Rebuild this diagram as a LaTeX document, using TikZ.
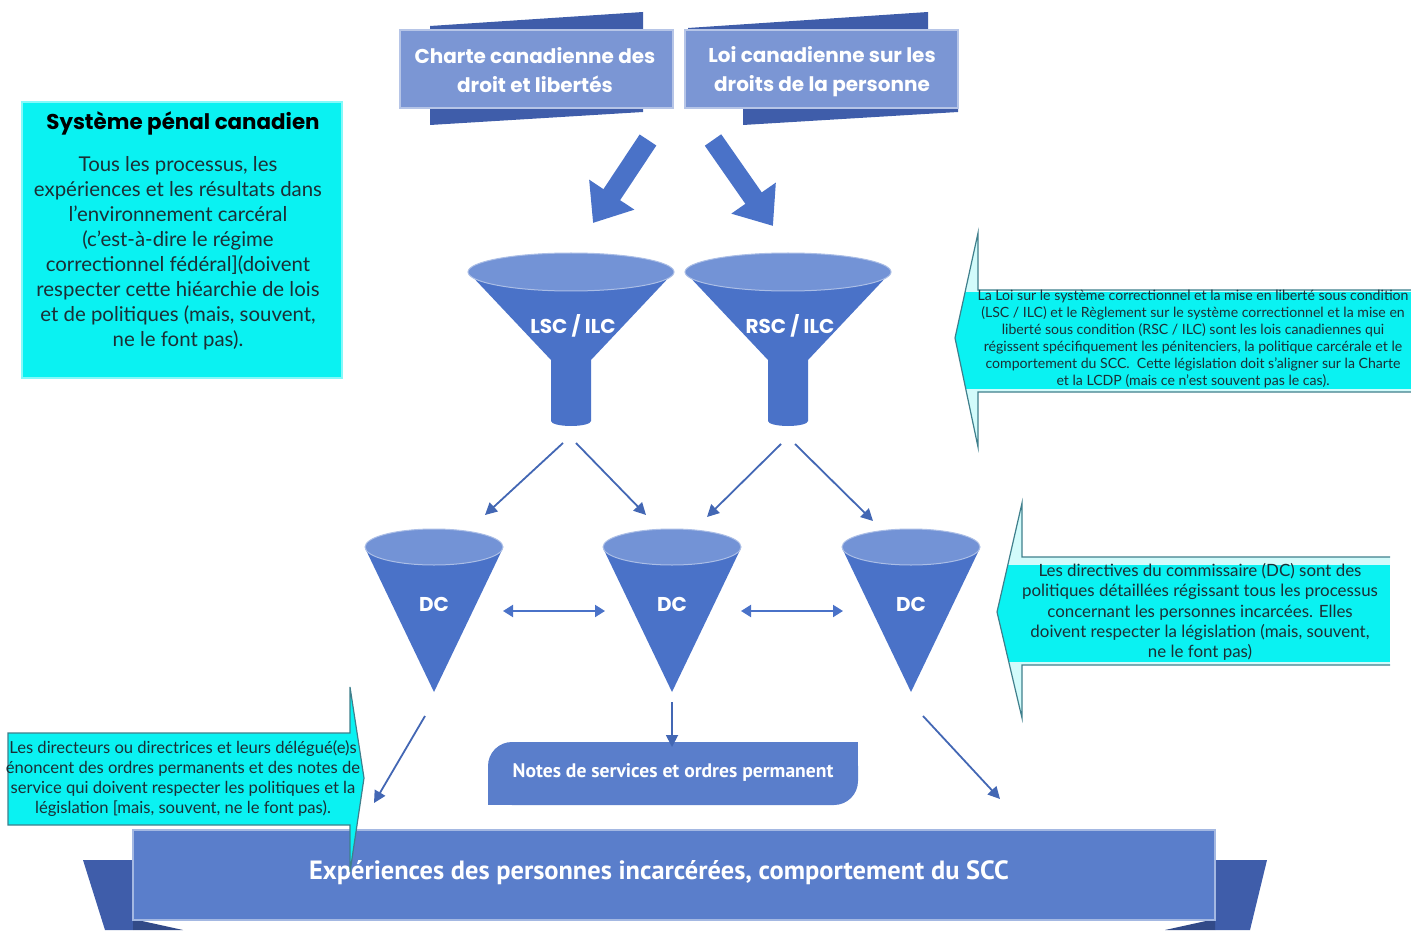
\documentclass[tikz,border=0pt]{standalone}
\usepackage{fontspec}
\setmainfont{Lato}
\newfontfamily\geofont{Poppins}
\newfontfamily\narrowfont{PT Sans}
\usetikzlibrary{arrows.meta,calc}

\definecolor{ribbon}{HTML}{7B96D4}
\definecolor{ribbondark}{HTML}{3F5DAA}
\definecolor{funnel}{HTML}{4A72C8}
\definecolor{funneltop}{HTML}{7393D6}
\definecolor{banner}{HTML}{5A7ECB}
\definecolor{aqua}{HTML}{0AF2F2}
\definecolor{aquapale}{HTML}{D2FBFB}
\definecolor{aquaedge}{HTML}{3F7F8C}
\definecolor{ink}{HTML}{1B2F36}

\tikzset{
  front/.style={fill=ribbon, draw=ribbon!55!white, line width=0.6pt},
  back/.style={fill=ribbondark},
  fatarrow/.style={draw=funnel, line width=10pt, -{Triangle[length=17pt,width=26pt]}},
  thinarrow/.style={draw=funnel!90!black, line width=0.9pt, -{Triangle[length=6pt,width=6pt]}},
  twoway/.style={draw=funnel, line width=1pt, {Triangle[length=5pt,width=6pt]}-{Triangle[length=5pt,width=6pt]}},
  whitelabel/.style={text=white, font=\geofont\bfseries},
  note/.style={text=ink, align=center},
  aquaarrow/.style={draw=aquaedge, line width=0.6pt},
}

\begin{document}
\begin{tikzpicture}[x=0.5pt, y=-0.5pt]
\useasboundingbox (0,0) rectangle (1411,930);

% charte and loi banners
\fill[back] (430,30) -- (430,26) -- (643,12) -- (643,30) -- cycle;
\fill[back] (430,108) -- (430,125) -- (643,112) -- (643,108) -- cycle;
\fill[back] (688,30) -- (688,28) -- (928,12) -- (928,30) -- cycle;
\fill[back] (743,108) -- (743,125) -- (958,112) -- (958,108) -- cycle;
\filldraw[front] (400,30) rectangle (673,108);
\filldraw[front] (685,30) rectangle (958,108);
\node[whitelabel, align=center, font=\geofont\bfseries\fontsize{10}{14.5}\selectfont] (charte) at (535,70) {Charte canadienne des\\droit et libertés};
\node[whitelabel, align=center, font=\geofont\bfseries\fontsize{10}{14.5}\selectfont] (loi) at (822,72) {Loi canadienne sur les\\droits de la personne};

% funnels
\foreach \cx/\nm in {571/lsc, 788/rsc} {
  \fill[funnel] (\cx-103,272) -- (\cx-20,360) -- (\cx-20,421)
    arc[start angle=180, end angle=0, x radius=20, y radius=5]
    -- (\cx+20,360) -- (\cx+103,272) -- cycle;
  \filldraw[fill=funneltop, draw=funneltop!60!white, line width=0.5pt] (\cx,272) ellipse[x radius=103, y radius=19];
  \coordinate (\nm end) at (\cx,428);
}
\node[whitelabel] (lsc) at (573,326) {LSC / ILC};
\node[whitelabel] (rsc) at (790,326) {RSC / ILC};

\coordinate (charteout) at (648,140);
\coordinate (loiout) at (713,140);
\draw[fatarrow] (charteout) -- (593,223);
\draw[fatarrow] (loiout) -- (773,226);

% DC cones
\foreach \cx/\nm in {434/dc1, 672/dc2, 911/dc3} {
  \fill[funnel] (\cx-69,548) -- (\cx,692) -- (\cx+69,548) -- cycle;
  \filldraw[fill=funneltop, draw=funneltop!60!white, line width=0.5pt] (\cx,547) ellipse[x radius=69, y radius=18];
  \node[whitelabel] (\nm) at (\cx,604) {DC};
  \coordinate (\nm rim) at (\cx,529);
  \coordinate (\nm tip) at (\cx,692);
}

\draw[thinarrow] ($(lscend)+(-8,15)$) -- ($(dc1rim)+(51,-14)$);
\draw[thinarrow] ($(lscend)+(5,15)$) -- ($(dc2rim)+(-26,-14)$);
\draw[thinarrow] ($(rscend)+(-7,16)$) -- ($(dc2rim)+(35,-12)$);
\draw[thinarrow] ($(rscend)+(7,16)$) -- ($(dc3rim)+(-38,-8)$);
\draw[twoway] ($(dc1)+(69,7)$) -- ($(dc2)+(-67,7)$);
\draw[twoway] ($(dc2)+(69,7)$) -- ($(dc3)+(-68,7)$);

% notes de service
\fill[banner, rounded corners=12pt] (488,742) rectangle (858,805);
\fill[banner] (858,742) rectangle (830,770);
\fill[banner] (488,805) rectangle (516,777);
\node[text=white, font=\narrowfont\bfseries\fontsize{9.8}{11}\selectfont] (notes) at (673,772) {Notes de services et ordres permanent};
\draw[thinarrow, shorten >=4.5pt] ($(dc2tip)+(0,10)$) -- (notes.north -| dc2tip);

% experiences banner
\fill[back] (83,860) -- (133,860) -- (133,930) -- (105,930) -- cycle;
\fill[back] (1215,860) -- (1267,860) -- (1250,930) -- (1215,930) -- cycle;
\fill[ribbondark!80!black] (133,919) -- (183,930) -- (133,930) -- cycle;
\fill[ribbondark!80!black] (1215,919) -- (1165,930) -- (1215,930) -- cycle;
\filldraw[fill=banner, draw=banner!55!white, line width=0.6pt] (133,830) rectangle (1215,920);
\node[text=white, font=\narrowfont\bfseries\fontsize{13.2}{15}\selectfont] (expe) at (659,873) {Expériences des personnes incarcérées, comportement du SCC};
\coordinate (expeleft) at (374,803);
\coordinate (experight) at (1000,799);
\draw[thinarrow] ($(dc1tip)+(-9,24)$) -- (expeleft);
\draw[thinarrow] ($(dc3tip)+(12,24)$) -- (experight);

% systeme penal box
\fill[aqua] (22,102) rectangle (342,378);
\draw[aqua!50!white, line width=0.6pt] (22,102) rectangle (342,378);
\node[font=\geofont\bfseries\fontsize{10.7}{12}\selectfont] (penal) at (183,123) {Système pénal canadien};
\node[note, font=\fontsize{10.2}{12.5}\selectfont] (penaltext) at (178,253) {Tous les processus, les\\expériences et les résultats dans\\l’environnement carcéral\\(c’est-à-dire le régime\\correctionnel fédéral](doivent\\respecter cette hiéarchie de lois\\et de politiques (mais, souvent,\\ne le font pas).};

% LSC / RSC note
\begin{scope}
\clip (1411,290) -- (978,290) -- (978,233) -- (955,338) -- (978,447) -- (978,392) -- (1411,392) -- cycle;
\fill[aquapale] (940,220) rectangle (1411,450);
\fill[aqua] (940,292) rectangle (1411,389);
\end{scope}
\draw[aquaarrow] (1411,290) -- (978,290) -- (978,233) -- (955,338) -- (978,447) -- (978,392) -- (1411,392);
\node[note, font=\fontsize{7.05}{8.5}\selectfont] (lsctext) at (1193,339) {La Loi sur le système correctionnel et la mise en liberté sous condition\\(LSC / ILC) et le Règlement sur le système correctionnel et la mise en\\liberté sous condition (RSC / ILC) sont les lois canadiennes qui\\régissent spécifiquement les pénitenciers, la politique carcérale et le\\comportement du SCC.\ \ Cette législation doit s’aligner sur la Charte\\et la LCDP (mais ce n’est souvent pas le cas).};

% DC note
\begin{scope}
\clip (1390,557) -- (1022,557) -- (1022,503) -- (997,612) -- (1022,718) -- (1022,665) -- (1390,665) -- cycle;
\fill[aquapale] (990,500) rectangle (1390,720);
\fill[aqua] (990,565) rectangle (1390,662);
\end{scope}
\draw[aquaarrow] (1390,557) -- (1022,557) -- (1022,503) -- (997,612) -- (1022,718) -- (1022,665) -- (1390,665);
\node[note, font=\fontsize{8.45}{10.2}\selectfont] (dctext) at (1200,612) {Les directives du commissaire (DC) sont des\\politiques détaillées régissant tous les processus\\concernant les personnes incarcées. Elles\\doivent respecter la législation (mais, souvent,\\ne le font pas)};

% directeurs note
\filldraw[fill=aqua, draw=aquaedge, line width=0.6pt] (8,733) -- (350,733) -- (350,687) -- (364,778) -- (350,872) -- (350,825) -- (8,825) -- cycle;
\node[note, font=\fontsize{8.3}{10}\selectfont] (dirtext) at (183,779) {Les directeurs ou directrices et leurs délégué(e)s\\énoncent des ordres permanents et des notes de\\service qui doivent respecter les politiques et la\\législation [mais, souvent, ne le font pas).};

\end{tikzpicture}
\end{document}
